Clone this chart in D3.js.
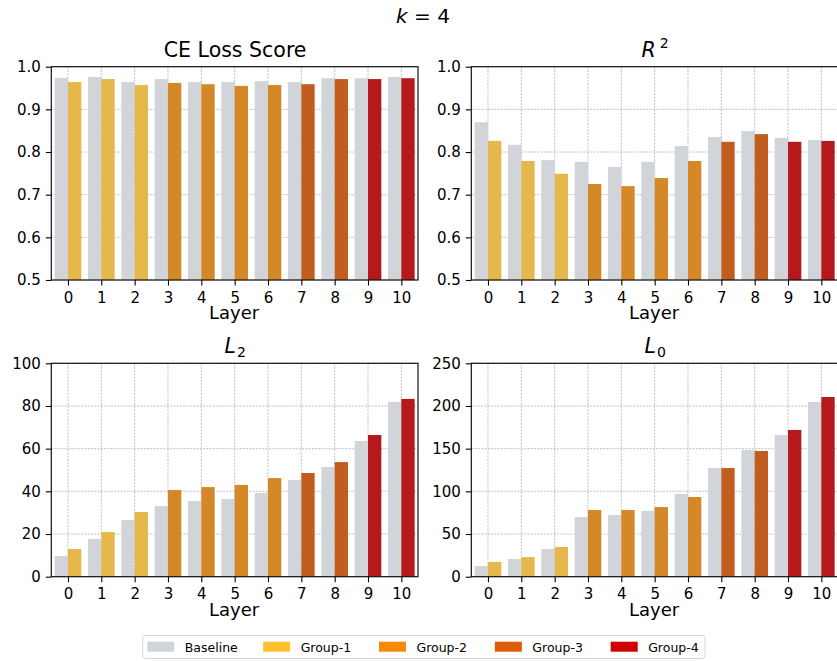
<!DOCTYPE html>
<html>
<head>
<meta charset="utf-8">
<script src="https://cdn.jsdelivr.net/npm/d3@7"></script>
<style>
    body { margin: 0; background: #fff; }
    svg { display: block; font-family: "DejaVu Sans", sans-serif; }
</style>
</head>
<body>
<div id="chart"></div>
<script>
// layers on the x axis and which group each layer belongs to
var layers = [0, 1, 2, 3, 4, 5, 6, 7, 8, 9, 10];
var layerGroup = [1, 1, 1, 2, 2, 2, 2, 3, 3, 4, 4];

// values (baseline vs grouped SAE)
var ceBaseline = [0.974, 0.976, 0.964, 0.971, 0.964, 0.964, 0.966, 0.964, 0.973, 0.973, 0.976];
var ceGroup    = [0.964, 0.971, 0.957, 0.962, 0.959, 0.955, 0.957, 0.959, 0.971, 0.971, 0.973];

var r2Baseline = [0.870, 0.817, 0.781, 0.777, 0.765, 0.777, 0.814, 0.835, 0.849, 0.833, 0.828];
var r2Group    = [0.826, 0.779, 0.749, 0.725, 0.720, 0.739, 0.779, 0.824, 0.842, 0.824, 0.826];

var l2Baseline = [9.7, 17.7, 26.6, 33.1, 35.5, 36.4, 39.2, 45.3, 51.4, 63.6, 81.9];
var l2Group    = [13.0, 20.9, 30.3, 40.6, 42.0, 43.0, 46.2, 48.6, 53.7, 66.4, 83.3];

var l0Baseline = [12.5, 20.7, 32.4, 69.9, 72.3, 77.0, 96.9, 127.3, 148.4, 166.0, 204.7];
var l0Group    = [17.2, 23.0, 34.8, 78.1, 78.1, 81.6, 93.4, 127.3, 147.3, 171.9, 210.5];

// y axis ticks per panel
var ceTicks = [0.5, 0.6, 0.7, 0.8, 0.9, 1.0];
var r2Ticks = [0.5, 0.6, 0.7, 0.8, 0.9, 1.0];
var l2Ticks = [0, 20, 40, 60, 80, 100];
var l0Ticks = [0, 50, 100, 150, 200, 250];

var legendNames = ["Baseline", "Group-1", "Group-2", "Group-3", "Group-4"];

// colours: bars are the desaturated version of the legend swatches
var baselineColor = "#d1d4d9";
var barColors = ["#d1d4d9", "#e6b84c", "#d48826", "#c15e1f", "#b41a1d"];
var legendColors = ["#cfd3da", "#ffc12e", "#f58a07", "#e05a00", "#d10000"];

var width = 837, height = 661;
var font = "DejaVu Sans";

var svg = d3.select("#chart")
    .append("svg")
    .attr("width", width)
    .attr("height", height);

// figure title  k = 4
var sup = svg.append("text")
    .attr("x", 423)
    .attr("y", 23)
    .attr("text-anchor", "middle")
    .style("font-size", "20px");
sup.append("tspan").style("font-style", "italic").text("k");
sup.append("tspan").text(" = 4");

var panels = [
    { title: "CE Loss Score", base: ceBaseline, grp: ceGroup, ticks: ceTicks, fmt: d3.format(".1f"),
      left: 51.3, right: 418, top: 66.7, bottom: 280 },
    { title: ["R", "2", "sup"], base: r2Baseline, grp: r2Group, ticks: r2Ticks, fmt: d3.format(".1f"),
      left: 471.3, right: 838, top: 66.7, bottom: 280 },
    { title: ["L", "2", "sub"], base: l2Baseline, grp: l2Group, ticks: l2Ticks, fmt: d3.format("d"),
      left: 51.3, right: 418, top: 363.3, bottom: 576.7 },
    { title: ["L", "0", "sub"], base: l0Baseline, grp: l0Group, ticks: l0Ticks, fmt: d3.format("d"),
      left: 471.3, right: 838, top: 363.3, bottom: 576.7 }
];

panels.forEach(drawPanel);

function drawPanel(p) {
    var x = d3.scaleLinear()
        .domain([-0.5, layers.length - 0.5])
        .range([p.left, p.right]);
    var y = d3.scaleLinear()
        .domain([p.ticks[0], p.ticks[p.ticks.length - 1]])
        .range([p.bottom, p.top]);
    var bw = x(0.4) - x(0);

    var g = svg.append("g");

    // grid
    g.selectAll(".hgrid")
        .data(p.ticks)
        .join("line")
        .attr("x1", p.left).attr("x2", p.right)
        .attr("y1", d => y(d)).attr("y2", d => y(d))
        .attr("stroke", "#a9aebb")
        .attr("stroke-width", 0.8)
        .attr("stroke-dasharray", "2,1.3");
    g.selectAll(".vgrid")
        .data(layers)
        .join("line")
        .attr("x1", d => x(d)).attr("x2", d => x(d))
        .attr("y1", p.top).attr("y2", p.bottom)
        .attr("stroke", "#a9aebb")
        .attr("stroke-width", 0.8)
        .attr("stroke-dasharray", "2,1.3");

    // baseline bars
    g.selectAll(".base")
        .data(layers)
        .join("rect")
        .attr("x", d => x(d) - bw)
        .attr("width", bw)
        .attr("y", (d, i) => y(p.base[i]))
        .attr("height", (d, i) => y(p.ticks[0]) - y(p.base[i]))
        .attr("fill", baselineColor);

    // group bars
    g.selectAll(".grp")
        .data(layers)
        .join("rect")
        .attr("x", d => x(d))
        .attr("width", bw)
        .attr("y", (d, i) => y(p.grp[i]))
        .attr("height", (d, i) => y(p.ticks[0]) - y(p.grp[i]))
        .attr("fill", (d, i) => barColors[layerGroup[i]]);

    // axes
    var xa = g.append("g")
        .attr("transform", "translate(0," + p.bottom + ")")
        .call(d3.axisBottom(x).tickValues(layers).tickSize(5.5).tickPadding(6.5).tickSizeOuter(0));
    var ya = g.append("g")
        .attr("transform", "translate(" + p.left + ",0)")
        .call(d3.axisLeft(y).tickValues(p.ticks).tickFormat(p.fmt).tickSize(5.5).tickPadding(5).tickSizeOuter(0));

    [xa, ya].forEach(function (a) {
        a.attr("font-family", font).attr("font-size", 15);
        a.select(".domain").remove();
        a.selectAll("text").attr("fill", "#000");
        a.selectAll(".tick line").attr("stroke", "#000").attr("stroke-width", 1.1);
    });

    // frame
    g.append("rect")
        .attr("x", p.left).attr("y", p.top)
        .attr("width", p.right - p.left).attr("height", p.bottom - p.top)
        .attr("fill", "none")
        .attr("stroke", "#111")
        .attr("stroke-width", 1.2);

    // x label
    g.append("text")
        .attr("x", (p.left + p.right) / 2 - 0.5)
        .attr("y", p.bottom + 39)
        .attr("text-anchor", "middle")
        .style("font-size", "18px")
        .text("Layer");

    // panel title
    var cx = (p.left + p.right) / 2 + 0.5;
    var t = g.append("text")
        .attr("x", cx)
        .attr("y", p.top - 10)
        .attr("text-anchor", "middle")
        .style("font-size", "20.5px");
    if (typeof p.title === "string") {
        t.text(p.title);
    } else {
        t.append("tspan").style("font-style", "italic").text(p.title[0]);
        t.append("tspan")
            .attr("dx", p.title[2] === "sup" ? 4 : 1)
            .attr("dy", p.title[2] === "sup" ? -9 : 4)
            .style("font-size", "14px")
            .text(p.title[1]);
    }
}

// legend
var lg = svg.append("g");
lg.append("rect")
    .attr("x", 142.7).attr("y", 635.5)
    .attr("width", 562.3).attr("height", 23)
    .attr("rx", 3).attr("ry", 3)
    .attr("fill", "#fff")
    .attr("stroke", "#d6d6d6")
    .attr("stroke-width", 1);

var legendX = d3.scaleLinear().domain([0, 4]).range([147.3, 610.7]);

lg.selectAll(".sw")
    .data(legendNames)
    .join("rect")
    .attr("x", (d, i) => legendX(i))
    .attr("y", 641.7)
    .attr("width", 27)
    .attr("height", 10)
    .attr("fill", (d, i) => legendColors[i]);

lg.selectAll(".lt")
    .data(legendNames)
    .join("text")
    .attr("x", (d, i) => legendX(i) + 37.5)
    .attr("y", 651.5)
    .style("font-size", "12.5px")
    .text(d => d);
</script>
</body>
</html>
